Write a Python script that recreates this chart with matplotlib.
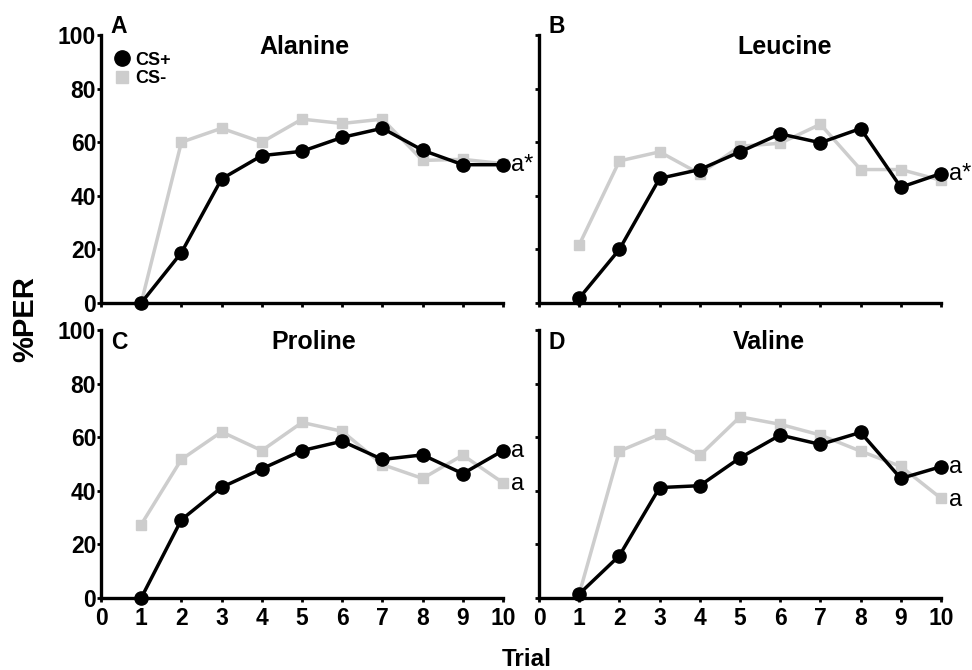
import matplotlib
matplotlib.use("Agg")
import matplotlib.pyplot as plt
from matplotlib.lines import Line2D

plt.rcParams['font.family'] = ['Liberation Sans', 'DejaVu Sans']
plt.rcParams['font.weight'] = 'bold'

trials = [1, 2, 3, 4, 5, 6, 7, 8, 9, 10]

# %PER per trial
alanine_plus = [0, 18.8, 46.3, 55, 56.6, 61.8, 65.2, 57, 51.6, 51.6]
alanine_minus = [0, 60, 65.2, 60, 68.6, 67, 68.6, 53.2, 53.6, 52]
leucine_plus = [1.8, 20, 46.5, 49.8, 56.4, 63.1, 59.8, 65.1, 43.2, 48.3]
leucine_minus = [21.7, 53, 56.4, 48.2, 58.5, 59.6, 66.7, 49.8, 49.8, 45.8]
proline_plus = [0, 29.2, 41.3, 48.2, 55, 58.5, 51.7, 53.4, 46.4, 55]
proline_minus = [27.4, 51.7, 62, 55, 65.5, 62.2, 49.8, 44.6, 53.3, 43]
valine_plus = [1.5, 15.8, 41.2, 41.9, 52.3, 60.8, 57.3, 61.8, 44.6, 49]
valine_minus = [1.5, 54.8, 61.1, 53.2, 67.6, 64.8, 60.8, 54.8, 49.1, 37.2]

panels = [
    ("A", "Alanine", alanine_plus, alanine_minus, "a*", None),
    ("B", "Leucine", leucine_plus, leucine_minus, "a*", None),
    ("C", "Proline", proline_plus, proline_minus, "a", "a"),
    ("D", "Valine", valine_plus, valine_minus, "a", "a"),
]

GRAY = "#cdcdcd"
fig = plt.figure(figsize=(9.72, 6.7), dpi=100)
W, H = 972, 670
boxes = [(101, 35), (539, 35), (101, 330), (539, 330)]
title_x = [0.507, 0.61, 0.53, 0.572]
letter_y = [1.03, 1.03, 0.955, 0.955]

for i, (letter, name, plus, minus, lab_p, lab_m) in enumerate(panels):
    x0, y0 = boxes[i]
    ax = fig.add_axes([x0 / W, 1 - (y0 + 268) / H, 402 / W, 268 / H])
    ax.plot(trials, minus, color=GRAY, lw=2.5, marker="s", ms=7.5,
            mec=GRAY, mfc=GRAY, clip_on=False, zorder=2)
    ax.plot(trials, plus, color="black", lw=2.5, marker="o", ms=9.5,
            clip_on=False, zorder=3)
    ax.set_xlim(0, 10)
    ax.set_ylim(0, 100)
    ax.set_xticks(range(0, 11))
    ax.set_yticks(range(0, 101, 20))
    for s in ["top", "right"]:
        ax.spines[s].set_visible(False)
    for s in ["left", "bottom"]:
        ax.spines[s].set_linewidth(2.4)
    ax.tick_params(width=2, length=3, labelsize=16.5)
    ax.tick_params(axis="x", pad=3.5)
    ax.tick_params(axis="y", pad=0.5)
    if i % 2 == 1:
        ax.set_yticklabels([])
    if i < 2:
        ax.set_xticklabels([])
    ax.text(title_x[i], 0.955, name, transform=ax.transAxes, ha="center",
            va="center", fontsize=18, fontweight="bold")
    ax.text(0.045, letter_y[i], letter, transform=ax.transAxes, ha="center",
            va="center", fontsize=16.5, fontweight="bold")
    ax.annotate(lab_p, (10, plus[-1]), xytext=(6, 0), textcoords="offset points",
                ha="left", va="center", fontsize=17, fontweight="normal",
                annotation_clip=False)
    if lab_m:
        ax.annotate(lab_m, (10, minus[-1]), xytext=(6, -1), textcoords="offset points",
                    ha="left", va="center", fontsize=17, fontweight="normal",
                    annotation_clip=False)
    if i == 0:
        handles = [Line2D([], [], ls="none", marker="o", ms=11, color="black"),
                   Line2D([], [], ls="none", marker="s", ms=9, color=GRAY)]
        ax.legend(handles, ["CS+", "CS-"], loc="upper left", frameon=False,
                  bbox_to_anchor=(0.005, 0.965), handletextpad=0.1,
                  labelspacing=0.1, prop={"weight": "bold", "size": 13},
                  borderaxespad=0, handlelength=1.3)

fig.text(25 / W, 1 - 319 / H, "%PER", rotation=90, ha="center", va="center",
         fontsize=21, fontweight="bold")
fig.text(527 / W, 1 - 659 / H, "Trial", ha="center", va="center",
         fontsize=17.5, fontweight="bold")

fig.savefig("out.png", dpi=100)
